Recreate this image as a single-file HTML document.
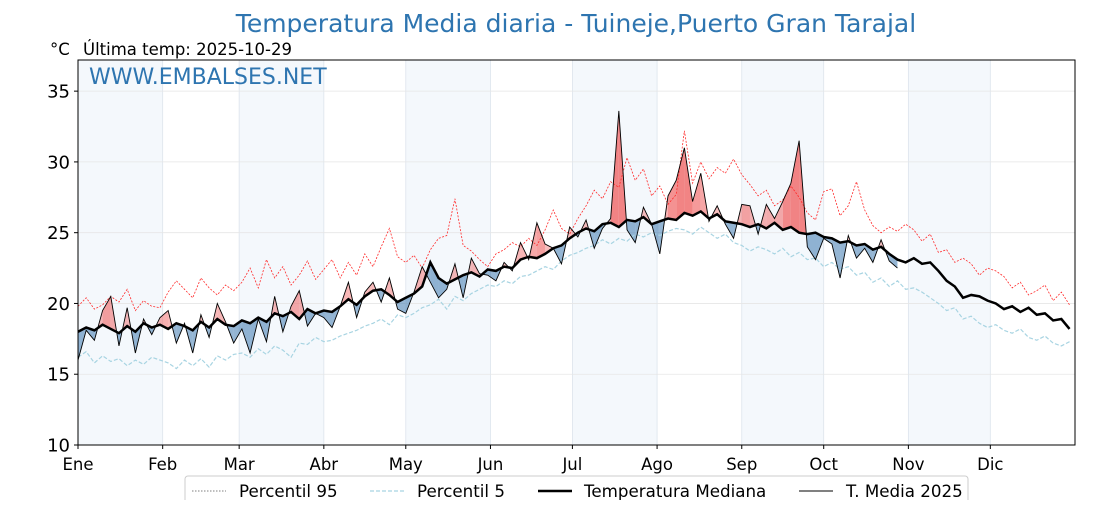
<!DOCTYPE html>
<html><head><meta charset="utf-8"><style>
body{margin:0;background:#fff;}
svg text{font-family:"DejaVu Sans","Liberation Sans",sans-serif;}
</style></head><body>
<svg id="chart" width="1120" height="500" xmlns="http://www.w3.org/2000/svg">
<text x="576" y="32" text-anchor="middle" font-size="25" fill="#2e75b0">Temperatura Media diaria - Tuineje,Puerto Gran Tarajal</text>
<text x="50" y="55" font-size="16.5">°C</text>
<text x="83" y="55" font-size="16.5">Última temp: 2025-10-29</text>
<g id="bands"></g><g id="grid"></g><g id="fills"></g><g id="lines"></g>
<rect x="78" y="60" width="997" height="385" fill="none" stroke="#000" stroke-width="1"/>
<text x="89" y="84" font-size="22" fill="#2e75b0">WWW.EMBALSES.NET</text>
<g id="axes"></g>
<g>
<rect x="185" y="476" width="783" height="30" rx="3" fill="#fff" stroke="#ccc"/>
<line x1="192" y1="491" x2="226" y2="491" stroke="#555" stroke-width="0.8" stroke-dasharray="1.5,1.5"/>
<text x="239" y="497" font-size="16.7">Percentil 95</text>
<line x1="370" y1="491" x2="404" y2="491" stroke="#a8d4e2" stroke-width="1.2" stroke-dasharray="4,2"/>
<text x="417" y="497" font-size="16.7">Percentil 5</text>
<line x1="538" y1="491" x2="572" y2="491" stroke="#000" stroke-width="2.5"/>
<text x="584" y="497" font-size="16.7">Temperatura Mediana</text>
<line x1="799" y1="491" x2="833" y2="491" stroke="#000" stroke-width="1"/>
<text x="846" y="497" font-size="16.7">T. Media 2025</text>
</g>
</svg>
<script>
const months=["Ene","Feb","Mar","Abr","May","Jun","Jul","Ago","Sep","Oct","Nov","Dic"];
const monthStarts=[0,31,59,90,120,151,181,212,243,273,304,334];
const yTicks=[10,15,20,25,30,35];
const step=3;
const median=[18.0,18.3,18.1,18.5,18.2,17.9,18.4,18.0,18.6,18.3,18.5,
18.2,18.6,18.4,18.1,18.7,18.3,18.9,18.5,18.4,
18.8,18.6,19.0,18.7,19.3,19.1,19.4,18.9,19.6,19.3,19.5,
19.4,19.8,20.3,19.9,20.5,20.9,21.0,20.6,20.1,
20.4,20.7,21.2,22.9,21.8,21.4,21.7,22.0,22.2,21.9,22.4,
22.3,22.6,22.5,23.1,23.3,23.2,23.5,23.9,24.1,24.6,
25.0,25.3,25.1,25.6,25.7,25.4,25.9,25.8,26.1,25.6,
25.8,26.0,25.9,26.4,26.2,26.5,26.0,26.3,25.8,25.7,25.6,
25.4,25.6,25.3,25.7,25.2,25.4,25.0,24.9,25.0,24.7,
24.6,24.3,24.4,24.1,24.2,23.8,24.0,23.5,23.1,22.9,
23.2,22.8,22.9,22.3,21.6,21.2,20.4,20.6,20.5,20.2,
20.0,19.6,19.8,19.4,19.7,19.2,19.3,18.8,18.9,18.2];
const p95=[19.8,20.4,19.6,19.9,20.5,20.1,21.0,19.5,20.2,19.8,19.7,
20.8,21.6,21.0,20.4,21.8,21.1,20.6,21.3,20.9,
21.5,22.5,21.1,23.1,21.8,22.6,21.3,22.0,23.0,21.7,22.4,
23.1,21.8,22.9,22.0,23.5,22.6,24.0,25.3,23.3,
22.9,23.4,22.5,23.8,24.6,24.8,27.4,24.1,23.7,23.1,22.6,
23.5,23.8,24.3,24.0,24.6,24.1,25.2,26.6,25.3,24.9,
26.0,26.9,28.0,27.4,28.6,28.2,30.3,28.7,29.5,27.6,
28.3,27.0,27.7,32.2,28.5,30.0,28.8,29.6,29.2,30.2,29.1,
28.4,27.6,28.0,26.9,27.3,28.3,27.5,26.4,25.9,27.9,
28.1,26.2,26.9,28.6,26.6,25.5,25.0,25.4,25.1,25.6,
25.2,24.4,24.9,23.6,23.8,22.9,23.2,22.8,22.0,22.5,
22.3,21.9,21.1,21.5,20.6,20.9,21.3,20.2,20.8,19.9];
const p5=[16.2,16.6,15.8,16.3,15.9,16.1,15.6,16.0,15.7,16.2,16.0,
15.8,15.4,16.0,15.6,16.1,15.5,16.3,16.0,16.4,
16.5,16.2,16.8,16.4,17.0,16.7,16.2,17.2,17.1,17.6,17.3,
17.4,17.7,17.9,18.1,18.4,18.6,18.9,18.5,19.2,
19.0,19.3,19.7,19.9,20.3,19.6,20.5,20.2,20.7,21.0,21.3,
21.2,21.6,21.4,21.9,22.0,22.3,22.6,22.4,23.0,23.4,
23.6,23.9,24.1,24.5,24.2,24.6,24.4,24.9,24.7,25.0,
24.8,25.1,25.3,25.2,24.9,25.4,25.0,24.6,24.9,24.3,24.1,
23.7,24.0,23.8,23.5,23.9,23.3,23.6,23.1,23.2,22.6,
22.9,22.4,22.6,22.0,22.2,21.5,21.8,21.2,21.6,21.0,
21.1,20.8,20.4,20.0,19.5,19.7,18.9,19.1,18.6,18.3,
18.5,18.1,17.9,18.2,17.6,17.4,17.7,17.2,17.0,17.3];
const t2025=[16.0,18.1,17.4,19.5,20.5,17.0,19.7,16.5,18.9,17.8,19.0,
19.5,17.2,18.6,16.5,19.2,17.6,20.0,18.7,17.2,
18.2,16.5,18.9,17.3,20.5,18.0,19.8,20.9,18.4,19.3,19.0,
18.3,19.8,21.5,19.0,20.8,21.5,20.1,21.8,19.6,
19.3,20.8,22.6,21.5,20.4,21.0,22.8,20.4,23.2,22.1,22.0,
21.6,22.9,22.3,24.3,23.1,25.7,24.2,23.9,22.8,25.4,
24.7,25.9,23.9,25.3,26.0,33.6,25.2,24.3,26.8,25.6,
23.5,27.6,28.7,31.0,27.2,29.2,25.8,26.9,25.6,24.6,27.0,
26.9,24.9,27.0,26.0,27.2,28.5,31.5,24.0,23.1,24.6,
24.2,21.8,24.8,23.2,23.9,22.9,24.5,23.0,22.5];

const NS="http://www.w3.org/2000/svg";
const X0=78,X1=1075,Y0=445,Y1=60,YMIN=10,YMAX=37.2;
function xs(d){return X0+d*(X1-X0)/365;}
function ys(v){return Y0-(v-YMIN)*(Y0-Y1)/(YMAX-YMIN);}
function mk(tag,attrs,parent){const e=document.createElementNS(NS,tag);for(const k in attrs)e.setAttribute(k,attrs[k]);document.getElementById(parent).appendChild(e);return e;}

months.forEach((m,i)=>{
  const a=monthStarts[i],b=i<11?monthStarts[i+1]:365;
  if(i%2===0){const r=mk('rect',{x:xs(a),y:Y1,width:xs(b)-xs(a),height:Y0-Y1,fill:'#f4f8fc'},'bands');
    
    }
  const g=mk('line',{x1:xs(a),x2:xs(a),y1:Y1,y2:Y0,stroke:'#dde4ec','stroke-width':0.8},'grid');
  
  
  const t=mk('text',{x:xs(a),y:470,'text-anchor':'middle','font-size':16.5},'axes');
  t.textContent=m;
  
  
  mk('line',{x1:xs(a),x2:xs(a),y1:Y0,y2:Y0+4,stroke:'#000'},'axes');
});
yTicks.forEach(v=>{
  const g=mk('line',{x1:X0,x2:X1,y1:ys(v),y2:ys(v),stroke:'#e6e6e6','stroke-width':0.8},'grid');
  
  
  mk('line',{x1:X0-4,x2:X0,y1:ys(v),y2:ys(v),stroke:'#000'},'axes');
  const t=mk('text',{x:X0-8,y:ys(v)+6.5,'text-anchor':'end','font-size':18},'axes');
  t.textContent=v;
  
  
});

for(let i=0;i<t2025.length-1;i++){
  const xa=xs(i*step),xb=xs((i+1)*step);
  const a0=t2025[i],a1=t2025[i+1],m0=median[i],m1=median[i+1];
  const d0=a0-m0,d1=a1-m1;
  const col=d=>d>=0?'rgba(240,110,110,'+Math.min(0.85,0.4+d*0.08)+')':'rgba(60,120,175,0.55)';
  if(d0*d1>=0){
    const p=mk('polygon',{points:`${xa},${ys(a0)} ${xb},${ys(a1)} ${xb},${ys(m1)} ${xa},${ys(m0)}`,fill:col(d0+d1)},'fills');
    
    
  }else{
    const f=d0/(d0-d1),xc=xa+f*(xb-xa),vc=m0+f*(m1-m0);
    const p1=mk('polygon',{points:`${xa},${ys(a0)} ${xc},${ys(vc)} ${xa},${ys(m0)}`,fill:col(d0)},'fills');
    
    
    const p2=mk('polygon',{points:`${xc},${ys(vc)} ${xb},${ys(a1)} ${xb},${ys(m1)}`,fill:col(d1)},'fills');
    
    
  }
}
function pts(arr){return arr.map((v,i)=>xs(i*step)+','+ys(v)).join(' ');}
const l95=mk('polyline',{points:pts(p95),fill:'none',stroke:'#ff2a2a','stroke-width':0.8,'stroke-dasharray':'2,1.5'},'lines');


const l5=mk('polyline',{points:pts(p5),fill:'none',stroke:'#a8d4e2','stroke-width':1.2,'stroke-dasharray':'4,2'},'lines');


const lm=mk('polyline',{points:pts(median),fill:'none',stroke:'#000','stroke-width':2.5},'lines');


const l25=mk('polyline',{points:pts(t2025),fill:'none',stroke:'#000','stroke-width':0.9},'lines');


</script>
</body></html>
